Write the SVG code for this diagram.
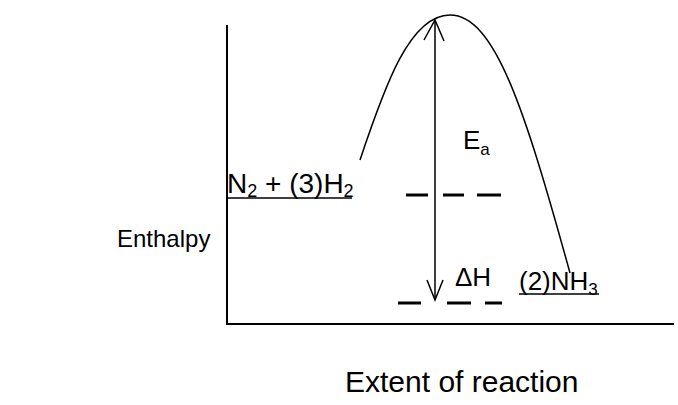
<svg xmlns="http://www.w3.org/2000/svg" width="678" height="405" viewBox="0 0 678 405">
<style>
.t{font-family:"Liberation Sans",Arial,sans-serif;fill:#000}
.ln{stroke:#000;fill:none;stroke-width:1.5}
.ax{stroke:#000;fill:none;stroke-width:2}
.ds{stroke:#000;stroke-width:3}
</style>
<rect width="678" height="405" fill="#fff"/>
<g id="axes">
<line class="ax" x1="227" y1="25" x2="227" y2="325"/>
<line class="ax" x1="226" y1="324" x2="674" y2="324"/>
</g>
<g id="connectors">
<path id="curve" class="ln" d="M360,160 C385,85 410,15 450,15 C495,15 525,110 570,273"/>
<g id="ea-arrow">
<line class="ln" x1="435" y1="20" x2="435" y2="195"/>
<polyline class="ln" points="424,40 435,20 444,41"/>
</g>
<g id="dh-arrow">
<line class="ln" x1="435" y1="195" x2="435" y2="300"/>
<polyline class="ln" points="427,280 435,300 443,280"/>
</g>
<g id="levels">
<line class="ln" x1="226" y1="198" x2="352" y2="198"/>
<line class="ds" x1="406" y1="195" x2="428" y2="195"/>
<line class="ds" x1="443" y1="195" x2="464" y2="195"/>
<line class="ds" x1="477" y1="195" x2="501" y2="195"/>
<line class="ds" x1="398" y1="303" x2="421" y2="303"/>
<line class="ds" x1="447" y1="303" x2="471" y2="303"/>
<line class="ds" x1="485" y1="303" x2="502" y2="303"/>
<line class="ln" x1="519" y1="294" x2="599" y2="294"/>
</g>
</g>
<g id="reactants">
<text class="t" x="227" y="193" font-size="28">N<tspan font-size="18" dy="4">2</tspan><tspan dy="-4"> + (3)H</tspan><tspan font-size="18" dy="4">2</tspan></text>
</g>
<g id="products">
<text class="t" x="519" y="290" font-size="26">(2)NH<tspan font-size="17" dy="5">3</tspan></text>
</g>
<g id="ea-label">
<text class="t" x="463" y="149" font-size="26">E<tspan font-size="17" dy="6">a</tspan></text>
</g>
<g id="dh-label">
<text class="t" x="455" y="286" font-size="26">ΔH</text>
</g>
<g id="y-label">
<text class="t" x="117" y="247" font-size="24">Enthalpy</text>
</g>
<g id="x-label">
<text class="t" x="345" y="392" font-size="30">Extent of reaction</text>
</g>
</svg>
